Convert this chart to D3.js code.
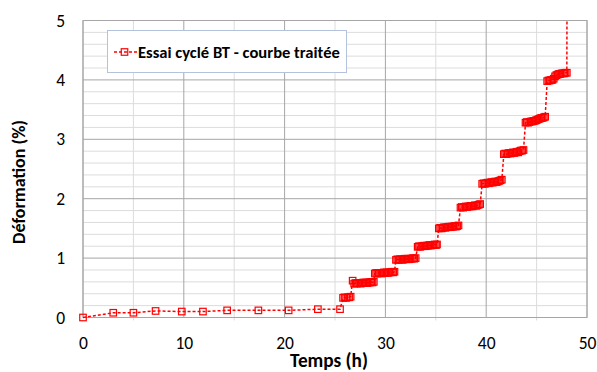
<!DOCTYPE html>
<html><head><meta charset="utf-8">
<script src="https://cdn.jsdelivr.net/npm/d3@7"></script>
<style>
html,body{margin:0;padding:0;background:#fff;}
text{font-family:Carlito,Calibri,Lato,"Open Sans",sans-serif;}
</style></head>
<body><svg id="c" width="597" height="372"></svg>
<script>
// Data
const temps = [
  0, 3.0, 5.0, 7.2, 9.8, 11.9, 14.3, 17.4, 20.4, 23.3, 25.5,
  25.8, 25.95, 26.1, 26.25, 26.4, 26.55,
  26.75,
  26.9, 27.03, 27.16, 27.29, 27.42, 27.55, 27.68, 27.81, 27.94, 28.07, 28.2, 28.33, 28.46, 28.59, 28.72, 28.85,
  28.95, 29.08, 29.21, 29.34, 29.47, 29.6, 29.73, 29.86, 29.99, 30.12, 30.25, 30.38, 30.51, 30.64, 30.77, 30.9,
  31.05, 31.18, 31.31, 31.44, 31.57, 31.7, 31.83, 31.96, 32.09, 32.22, 32.35, 32.48, 32.61, 32.74, 32.87, 33.0,
  33.2, 33.33, 33.46, 33.59, 33.72, 33.85, 33.98, 34.11, 34.24, 34.37, 34.5, 34.63, 34.76, 34.89, 35.02, 35.12,
  35.3, 35.43, 35.56, 35.69, 35.82, 35.95, 36.08, 36.21, 36.34, 36.47, 36.6, 36.73, 36.86, 36.99, 37.12, 37.25,
  37.45, 37.58, 37.71, 37.84, 37.97, 38.1, 38.23, 38.36, 38.49, 38.62, 38.75, 38.88, 39.01, 39.14, 39.27, 39.4,
  39.6, 39.73, 39.86, 39.99, 40.12, 40.25, 40.38, 40.51, 40.64, 40.77, 40.9, 41.03, 41.16, 41.29, 41.42, 41.55,
  41.75, 41.88, 42.01, 42.14, 42.27, 42.4, 42.53, 42.66, 42.79, 42.92, 43.05, 43.18, 43.31, 43.44, 43.57, 43.7,
  43.9, 44.03, 44.16, 44.29, 44.42, 44.55, 44.68, 44.81, 44.94, 45.07, 45.2, 45.33, 45.46, 45.59, 45.72, 45.85,
  46.05, 46.18, 46.31, 46.44, 46.57, 46.7, 46.83, 46.96, 47.09, 47.22, 47.35, 47.48, 47.61, 47.74, 47.87, 48.0,
  48.02
];
const deformation = [
  0, 0.08, 0.08, 0.11, 0.10, 0.10, 0.12, 0.12, 0.12, 0.14, 0.14,
  0.33, 0.34, 0.33, 0.34, 0.34, 0.35,
  0.62,
  0.57, 0.58, 0.57, 0.58, 0.58, 0.57, 0.58, 0.59, 0.58, 0.59, 0.58, 0.59, 0.59, 0.60, 0.59, 0.60,
  0.74, 0.75, 0.74, 0.75, 0.75, 0.74, 0.75, 0.76, 0.75, 0.76, 0.75, 0.76, 0.76, 0.77, 0.76, 0.77,
  0.97, 0.98, 0.97, 0.98, 0.98, 0.97, 0.98, 0.99, 0.98, 0.99, 0.98, 0.99, 0.99, 1.00, 0.99, 1.00,
  1.19, 1.20, 1.19, 1.20, 1.20, 1.21, 1.20, 1.21, 1.21, 1.22, 1.21, 1.22, 1.22, 1.23, 1.22, 1.23,
  1.50, 1.51, 1.50, 1.51, 1.52, 1.51, 1.52, 1.52, 1.53, 1.52, 1.53, 1.53, 1.54, 1.53, 1.54, 1.55,
  1.85, 1.86, 1.85, 1.86, 1.87, 1.86, 1.87, 1.87, 1.88, 1.87, 1.88, 1.89, 1.88, 1.89, 1.90, 1.91,
  2.25, 2.26, 2.25, 2.26, 2.27, 2.26, 2.27, 2.28, 2.27, 2.28, 2.29, 2.28, 2.29, 2.30, 2.31, 2.32,
  2.75, 2.76, 2.75, 2.76, 2.77, 2.76, 2.77, 2.78, 2.77, 2.78, 2.79, 2.78, 2.80, 2.81, 2.81, 2.82,
  3.28, 3.29, 3.28, 3.29, 3.30, 3.30, 3.31, 3.31, 3.32, 3.33, 3.34, 3.35, 3.36, 3.36, 3.37, 3.38,
  3.98, 3.99, 3.99, 4.00, 4.00, 4.02, 4.06, 4.08, 4.09, 4.10, 4.10, 4.11, 4.11, 4.11, 4.12, 4.12,
  5.60
];
const xTicks = [0, 10, 20, 30, 40, 50];
const yTicks = [0, 1, 2, 3, 4, 5];
const seriesName = "Essai cyclé BT - courbe traitée";
const xTitle = "Temps (h)";
const yTitle = "Déformation (%)";

const data = temps.map((t, i) => ({t, v: deformation[i]}));

const W = 597, H = 372;
const m = {left: 83, right: 10, top: 20.5, bottom: 54.5};
const svg = d3.select("#c");
const x = d3.scaleLinear().domain([0, 50]).range([m.left, W - m.right]);
const y = d3.scaleLinear().domain([0, 5]).range([H - m.bottom, m.top]);

function fit(sel, target) {
  const fs = +sel.attr("font-size");
  const w = sel.node().getComputedTextLength();
  if (w > 0) sel.attr("font-size", fs * target / w);
}

const g = svg.append("g");
const xMinor = d3.range(5, 50, 10);
const yMinor = d3.range(0, 5.001, 0.2).filter(v => Math.abs(v - Math.round(v)) > 0.01);
g.selectAll(".xm").data(xMinor).join("line")
  .attr("x1", d => x(d)).attr("x2", d => x(d))
  .attr("y1", y(5)).attr("y2", y(0) + 3)
  .attr("stroke", "#dcdcdc").attr("stroke-width", 1);
g.selectAll(".ym").data(yMinor).join("line")
  .attr("x1", x(0)).attr("x2", x(50))
  .attr("y1", d => y(d)).attr("y2", d => y(d))
  .attr("stroke", "#dcdcdc").attr("stroke-width", 1);
g.selectAll(".xM").data(xTicks).join("line")
  .attr("x1", d => x(d)).attr("x2", d => x(d))
  .attr("y1", y(5)).attr("y2", y(0))
  .attr("stroke", "#a6a6a6").attr("stroke-width", 1);
g.selectAll(".yM").data(yTicks).join("line")
  .attr("x1", x(0)).attr("x2", x(50))
  .attr("y1", d => y(d)).attr("y2", d => y(d))
  .attr("stroke", "#a6a6a6").attr("stroke-width", 1);
g.append("rect").attr("x", x(0)).attr("y", y(5))
  .attr("width", x(50) - x(0)).attr("height", y(0) - y(5))
  .attr("fill", "none").attr("stroke", "#a6a6a6").attr("stroke-width", 1);

const xAxis = d3.axisBottom(x).tickValues(xTicks).tickFormat(d3.format("d")).tickSize(0).tickPadding(19);
const ax = svg.append("g").attr("transform", `translate(0,${y(0)})`).call(xAxis);
ax.select(".domain").remove();
ax.selectAll("text").attr("font-size", 17.5).attr("fill", "#000");
const yAxis = d3.axisLeft(y).tickValues(yTicks).tickFormat(d3.format("d")).tickSize(0).tickPadding(18);
const ay = svg.append("g").attr("transform", `translate(${x(0)},0)`).call(yAxis);
ay.select(".domain").remove();
ay.selectAll("text").attr("font-size", 17.5).attr("fill", "#000");

const xt = svg.append("text").attr("x", 329).attr("y", 367).attr("text-anchor", "middle")
  .attr("font-size", 17).attr("font-weight", "bold").text(xTitle);
fit(xt, 78);
const yt = svg.append("text").attr("transform", "translate(25,182) rotate(-90)")
  .attr("text-anchor", "middle").attr("font-size", 17).attr("font-weight", "bold").text(yTitle);
fit(yt, 124);

svg.append("clipPath").attr("id", "clip").append("rect")
  .attr("x", x(0) - 5).attr("y", y(5)).attr("width", x(50) - x(0) + 10).attr("height", y(0) - y(5) + 6);
const sg = svg.append("g").attr("clip-path", "url(#clip)");
const line = d3.line().x(d => x(d.t)).y(d => y(d.v));
sg.append("path").datum(data).attr("d", line)
  .attr("fill", "none").attr("stroke", "#ff0000").attr("stroke-width", 1.5)
  .attr("stroke-dasharray", "3,2");
const ms = 6.5;
sg.selectAll(".mk").data(data).join("rect")
  .attr("x", d => x(d.t) - ms / 2).attr("y", d => y(d.v) - ms / 2)
  .attr("width", ms).attr("height", ms)
  .attr("fill", "none").attr("stroke", "#ff0000").attr("stroke-width", 1.2);

const lg = svg.append("g");
lg.append("rect").attr("x", 107.5).attr("y", 30.5).attr("width", 239).attr("height", 42)
  .attr("fill", "#fff").attr("stroke", "#b4c3dd").attr("stroke-width", 1);
lg.append("line").attr("x1", 114).attr("x2", 137).attr("y1", 52).attr("y2", 52)
  .attr("stroke", "#ff0000").attr("stroke-width", 1.5).attr("stroke-dasharray", "3,2");
lg.append("rect").attr("x", 124.5 - ms / 2).attr("y", 52 - ms / 2).attr("width", ms).attr("height", ms)
  .attr("fill", "none").attr("stroke", "#ff0000").attr("stroke-width", 1.2);
const lt = lg.append("text").attr("x", 138).attr("y", 57.5).attr("font-size", 15.5).attr("font-weight", "bold")
  .attr("fill", "#000").text(seriesName);
fit(lt, 202);
</script></body></html>
